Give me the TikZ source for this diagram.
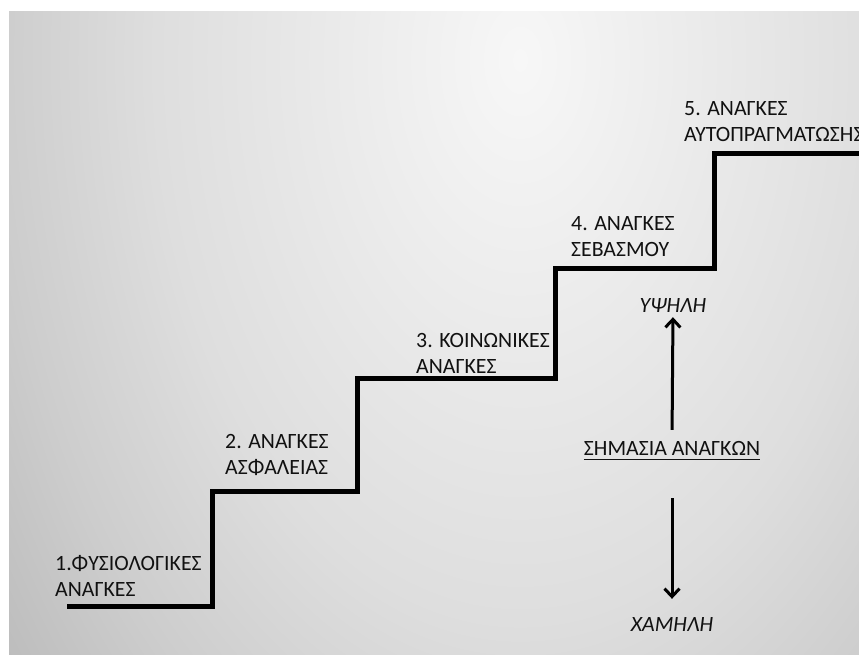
\documentclass[tikz,border=0pt]{standalone}
\usepackage{fontspec}
\setmainfont{Carlito}
\usetikzlibrary{arrows.meta}
\definecolor{gA}{HTML}{F7F7F7}
\definecolor{gB}{HTML}{DEDEDE}
\definecolor{gC}{HTML}{CDCDCD}
\definecolor{gD}{HTML}{ABABAB}
\definecolor{gE}{HTML}{9A9A9A}
\definecolor{gF}{HTML}{8C8C8C}
\definecolor{gG}{HTML}{828282}
\definecolor{txt}{HTML}{111111}
\pgfdeclareradialshading{bgs}{\pgfpoint{0bp}{0bp}}{color(0bp)=(gA); color(8.75bp)=(gB); color(12.5bp)=(gC); color(18.75bp)=(gD); color(22.5bp)=(gE); color(27.5bp)=(gF); color(50bp)=(gG)}
\tikzset{
  lbl/.style={anchor=base west, inner sep=0pt, align=left, font=\fontsize{21.8}{25.5}\selectfont, text=txt},
  lvl/.style={anchor=base, inner sep=0pt, font=\fontsize{21.8}{25.5}\selectfont\itshape, text=txt, text height=14pt, text depth=0pt},
  sigst/.style={anchor=base, inner sep=0pt, font=\fontsize{21.8}{25.5}\selectfont, text=txt, text height=14pt, text depth=0pt},
  stair/.style={line width=5pt, line join=miter, line cap=butt, black},
  arr/.style={line width=3pt, black, -{Straight Barb[length=8pt,width=15pt,line width=3pt]}}
}
\begin{document}
\begin{tikzpicture}[x=1pt,y=-1pt]
\useasboundingbox (0,0) rectangle (859,654);
\fill[white] (0,0) rectangle (859,654);
\begin{scope}
  \clip (9,11) rectangle (859,654);
  \shade[shading=bgs] (520,60) ellipse [x radius=1040, y radius=1600];
\end{scope}
% staircase
\coordinate (s0) at (67,606);
\coordinate (s1) at (212,491);
\coordinate (s2) at (357,378);
\coordinate (s3) at (555,268);
\coordinate (s4) at (714,153);
\coordinate (s5) at (862,153);
\draw[stair] (s0) -| (s1) -| (s2) -| (s3) -| (s4) -- (s5);
% labels (anchor = baseline of last line)
\node[lbl] (l1) at (55,596) {1.ΦΥΣΙΟΛΟΓΙΚΕΣ\\ΑΝΑΓΚΕΣ};
\node[lbl] (l2) at (225,474) {2. ΑΝΑΓΚΕΣ\\ΑΣΦΑΛΕΙΑΣ};
\node[lbl] (l3) at (416,373) {3. ΚΟΙΝΩΝΙΚΕΣ\\ΑΝΑΓΚΕΣ};
\node[lbl] (l4) at (571,256) {4. ΑΝΑΓΚΕΣ\\ΣΕΒΑΣΜΟΥ};
\node[lbl] (l5) at (684,141) {5. ΑΝΑΓΚΕΣ\\ΑΥΤΟΠΡΑΓΜΑΤΩΣΗΣ};
% importance axis
\node[sigst] (sig) at (672,455) {ΣΗΜΑΣΙΑ ΑΝΑΓΚΩΝ};
\draw[line width=1.5pt, txt] ([yshift=-4.5pt]sig.base west) -- ([yshift=-4.5pt]sig.base east);
\node[lvl] (high) at (673,312) {ΥΨΗΛΗ};
\node[lvl] (low) at (672,631) {ΧΑΜΗΛΗ};
\draw[arr, shorten <=11pt, shorten >=5pt] (sig.north) -- (high.south);
\draw[arr, shorten <=43pt, shorten >=18pt] (sig.south) -- (low.north);
\end{tikzpicture}
\end{document}
